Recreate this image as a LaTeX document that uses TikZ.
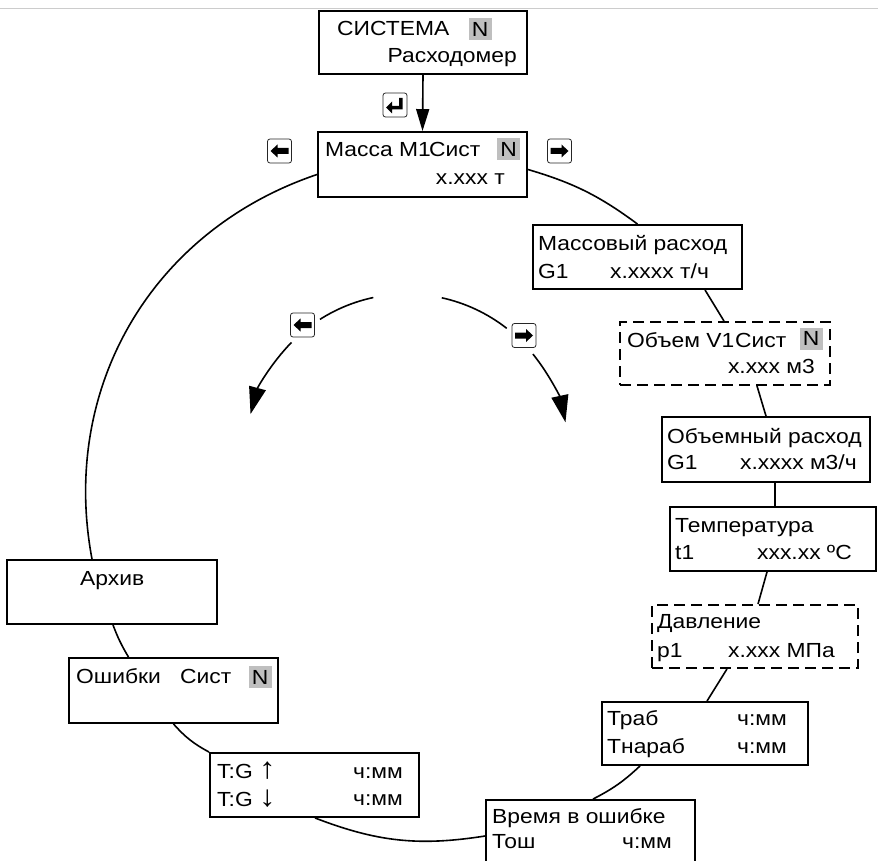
\documentclass[tikz,border=0pt]{standalone}
\usepackage{fontspec}
\setmainfont{Liberation Sans}[FakeStretch=1.12]
\usetikzlibrary{arrows.meta}
\newcommand{\bigarr}[1]{\scalebox{1.45}{#1}}
\begin{document}
\begin{tikzpicture}[x=1pt,y=-1pt,
  box/.style={draw, line width=1.9pt, inner sep=0pt, minimum width=209pt, minimum height=64pt},
  dbox/.style={box, dash pattern=on 11pt off 6pt},
  txt/.style={inner sep=0pt, anchor=base west, font=\fontsize{20.4}{24}\selectfont},
  rtxt/.style={txt, anchor=base east},
  nbox/.style={fill=black!25, inner sep=0pt, minimum width=23pt, minimum height=22pt, font=\fontsize{20.4}{24}\selectfont},
  link/.style={line width=1.6pt},
  key/.style={draw=black!85, line width=0.8pt, rounded corners=2.5pt, minimum width=24pt, minimum height=24pt, inner sep=0pt, fill=white},
  leftglyph/.pic={\fill (-9,0) -- (-2,-6.5) -- (-2,-3) -- (9,-3) -- (9,3) -- (-2,3) -- (-2,6.5) -- cycle;},
  rightglyph/.pic={\fill (9,0) -- (2,-6.5) -- (2,-3) -- (-9,-3) -- (-9,3) -- (2,3) -- (2,6.5) -- cycle;},
  enterglyph/.pic={\fill (-9,2.5) -- (-3,-3.5) -- (-3,1) -- (4,1) -- (4,-7) -- (7.5,-7) -- (7.5,4.5) -- (-3,4.5) -- (-3,8.5) -- cycle;}
]
\useasboundingbox (0,0) rectangle (878,861);
\draw[black!20, line width=1.2pt] (0,8.5) -- (878,8.5);

% top
\node[box, minimum width=208pt, minimum height=63pt] (sys) at (423,42.5) {};
\node[txt] (sysT) at (337,36) {СИСТЕМА};
\node[nbox] (sysN) at (480,29.5) {N};
\node[rtxt] (sysR) at (517,63) {Расходомер};

\node[key] (kEnter) at (395,105) {};
\pic at (kEnter) {enterglyph};

\node[box, minimum width=209pt, minimum height=65pt] (massa) at (422.5,164.5) {};
\node[txt] (massaT) at (325,157) {Масса М1};
\node[txt] (massaS) at (429,157) {Сист};
\node[nbox] (massaN) at (508.5,149) {N};
\node[rtxt] (massaV) at (505,185) {х.ххх т};

\node[key] (kLeft) at (279.5,151) {};
\pic at (kLeft) {leftglyph};
\node[key] (kRight) at (559.5,151) {};
\pic at (kRight) {rightglyph};

% right chain
\node[box] (mrash) at (637.5,257) {};
\node[txt] (mrashT) at (538,251) {Массовый расход};
\node[txt] (mrashG) at (538,278) {G1};
\node[txt] (mrashV) at (610,278) {х.хххх};
\node[txt] (mrashU) at (680,278) {т/ч};

\node[dbox, minimum width=210pt, minimum height=63pt] (vol) at (725,353.5) {};
\node[txt] (volT) at (627,347) {Объем V1};
\node[txt] (volS) at (735,347) {Сист};
\node[nbox] (volN) at (811,338.5) {N};
\node[rtxt] (volV) at (815,373) {х.ххх м3};

\node[box, minimum width=208pt, minimum height=65pt] (vrash) at (766,449.5) {};
\node[txt] (vrashT) at (667,443) {Объемный расход};
\node[txt] (vrashG) at (667,469) {G1};
\node[txt] (vrashV) at (740,469) {х.хххх м3/ч};

\node[box, minimum width=206pt, minimum height=64pt] (temp) at (773,539) {};
\node[txt] (tempT) at (675,532) {Температура};
\node[txt] (tempG) at (675,559) {t1};
\node[txt] (tempV) at (757,559) {ххх.хх};
\node[rtxt] (tempU) at (852,559) {ºC};

\node[dbox, minimum width=206pt, minimum height=63pt] (press) at (755,636.5) {};
\node[txt] (pressT) at (657,628) {Давление};
\node[txt] (pressG) at (657,657) {р1};
\node[txt] (pressV) at (728,657) {х.ххх МПа};

\node[box, minimum width=206pt, minimum height=63pt] (trab) at (705,733.5) {};
\node[txt] (trabA) at (607,725) {Траб};
\node[txt] (trabAv) at (737,725) {ч:мм};
\node[txt] (trabB) at (607,753) {Тнараб};
\node[txt] (trabBv) at (737,753) {ч:мм};

\node[box, minimum width=209pt, minimum height=70pt] (tosh) at (590.5,835) {};
\node[txt] (toshT) at (492,823) {Время в ошибке};
\node[txt] (toshA) at (492,848) {Тош};
\node[txt] (toshAv) at (622,848) {ч:мм};

% left chain
\node[box] (tg) at (314.5,785) {};
\node[txt] (tgA) at (217,778) {T:G \bigarr{↑}};
\node[txt] (tgAv) at (353,778) {ч:мм};
\node[txt] (tgB) at (217,806) {T:G \bigarr{↓}};
\node[txt] (tgBv) at (353,805) {ч:мм};

\node[box, minimum height=65pt] (err) at (173.5,690.5) {};
\node[txt] (errT) at (76,683) {Ошибки};
\node[txt] (errS) at (180,683) {Сист};
\node[nbox] (errN) at (260,677) {N};

\node[box, minimum width=210pt] (arch) at (112,592) {};
\node[txt] (archT) at (80,585) {Архив};

% connectors
\draw[link, -{Triangle[length=22pt,width=13pt]}] (sys.south) -- (massa.north);
\draw[link] ([yshift=-10pt]massa.west) to[bend right=41] ([xshift=-20pt]arch.north);
\draw[link] ([xshift=1pt]arch.south) to[bend right=5] ([xshift=-45pt]err.north);
\draw[link] (err.south) to[bend right=10] (tg.north west);
\draw[link] ([xshift=0.5pt]tg.south) to[bend right=15] ([yshift=-1pt]tosh.west);
\draw[link] ([xshift=2.5pt]tosh.north) to[bend right=8] ([xshift=-65pt]trab.south);
\draw[link] ([xshift=2pt]trab.north) -- ([xshift=-28pt]press.south);
\draw[link] ([xshift=3pt]press.north) -- ([xshift=-6pt]temp.south);
\draw[link] ([xshift=2pt]temp.north) -- ([xshift=9pt]vrash.south);
\draw[link] (vrash.north) -- ([xshift=32pt]vol.south);
\draw[link] ([xshift=-1pt]vol.north) -- ([xshift=67.5pt]mrash.south);
\draw[link] (mrash.north) to[bend right=10] ([yshift=-5pt]massa.east);

% inner rotation arrows
\coordinate (lc) at (407,456);
\draw[link] ([shift={(258:162)}]lc) arc[start angle=258, end angle=237.5, radius=162];
\draw[link, -{Triangle[length=27pt,width=17pt]}] ([shift={(224.5:162)}]lc) arc[start angle=224.5, end angle=195, radius=162];
\draw[link] ([shift={(282.4:162)}]lc) arc[start angle=282.4, end angle=308, radius=162];
\draw[link, -{Triangle[length=27pt,width=17pt]}] ([shift={(321:162)}]lc) arc[start angle=321, end angle=348, radius=162];
\node[key] (kLeft2) at (302.5,325) {};
\pic at (kLeft2) {leftglyph};
\node[key] (kRight2) at (524,335.5) {};
\pic at (kRight2) {rightglyph};
\end{tikzpicture}
\end{document}
